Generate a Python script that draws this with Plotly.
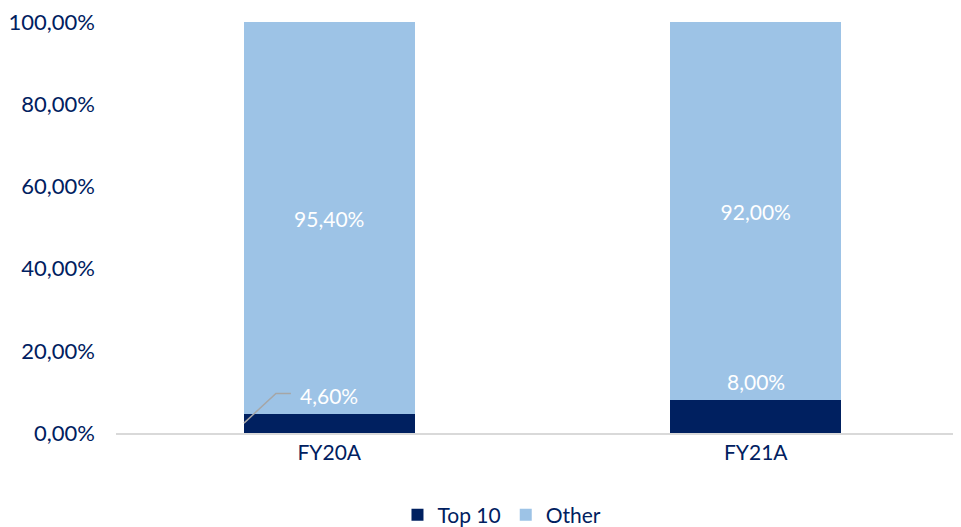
import plotly.graph_objects as go

categories = ["FY20A", "FY21A"]
top10 = [4.60, 8.00]
other = [95.40, 92.00]
tick_vals = [0, 20, 40, 60, 80, 100]
tick_text = ["0,00%", "20,00%", "40,00%", "60,00%", "80,00%", "100,00%"]

NAVY = "#002060"
LIGHT = "#9DC3E6"
FONT = "Lato, 'Open Sans', sans-serif"


def pct(v):
    return f"{v:.2f}".replace(".", ",") + "%"


fig = go.Figure()
fig.add_trace(go.Bar(
    name="Top 10", x=categories, y=top10, marker_color=NAVY, width=0.4,
    marker_line_width=0,
))
fig.add_trace(go.Bar(
    name="Other", x=categories, y=other, marker_color=LIGHT, width=0.4,
    marker_line_width=0,
    text=[pct(v) for v in other], textposition="inside", insidetextanchor="middle",
    textfont=dict(color="white", size=21, family=FONT),
    hoverinfo="skip",
))

# Top 10 labels sit just above the dark segment
for c, v in zip(categories, top10):
    fig.add_annotation(
        x=c, y=v, text=pct(v), showarrow=False, yshift=19,
        font=dict(color="white", size=21, family=FONT),
    )

# leader line for the small FY20A label
fig.add_shape(
    type="path", xref="x", yref="y",
    path=f"M -0.2,{top10[0] - 2.2} L -0.125,{top10[0] + 5} L -0.09,{top10[0] + 5}",
    line=dict(color="#A6A6A6", width=1.5),
)

# page body adds an 8px offset, margins are compensated for it
fig.update_layout(
    barmode="stack",
    width=961, height=527,
    margin=dict(l=108, r=0, t=14, b=102, autoexpand=False),
    plot_bgcolor="white", paper_bgcolor="white",
    font=dict(family=FONT, color=NAVY, size=21),
    showlegend=True,
    legend=dict(orientation="h", x=0.4525, xanchor="center", y=-0.2, yanchor="middle",
                font=dict(size=21, color=NAVY), traceorder="normal"),
    xaxis=dict(showline=True, linecolor="#D9D9D9", linewidth=1.5,
               tickfont=dict(size=21, color=NAVY), ticks="", range=[-0.5, 1.5]),
    yaxis=dict(range=[0, 100], tickvals=tick_vals, ticktext=tick_text,
               showgrid=False, zeroline=False, ticks="",
               tickfont=dict(size=22, color=NAVY), ticklabelstandoff=20,
               ticklabeloverflow="allow"),
)

fig.write_html("out.html")
